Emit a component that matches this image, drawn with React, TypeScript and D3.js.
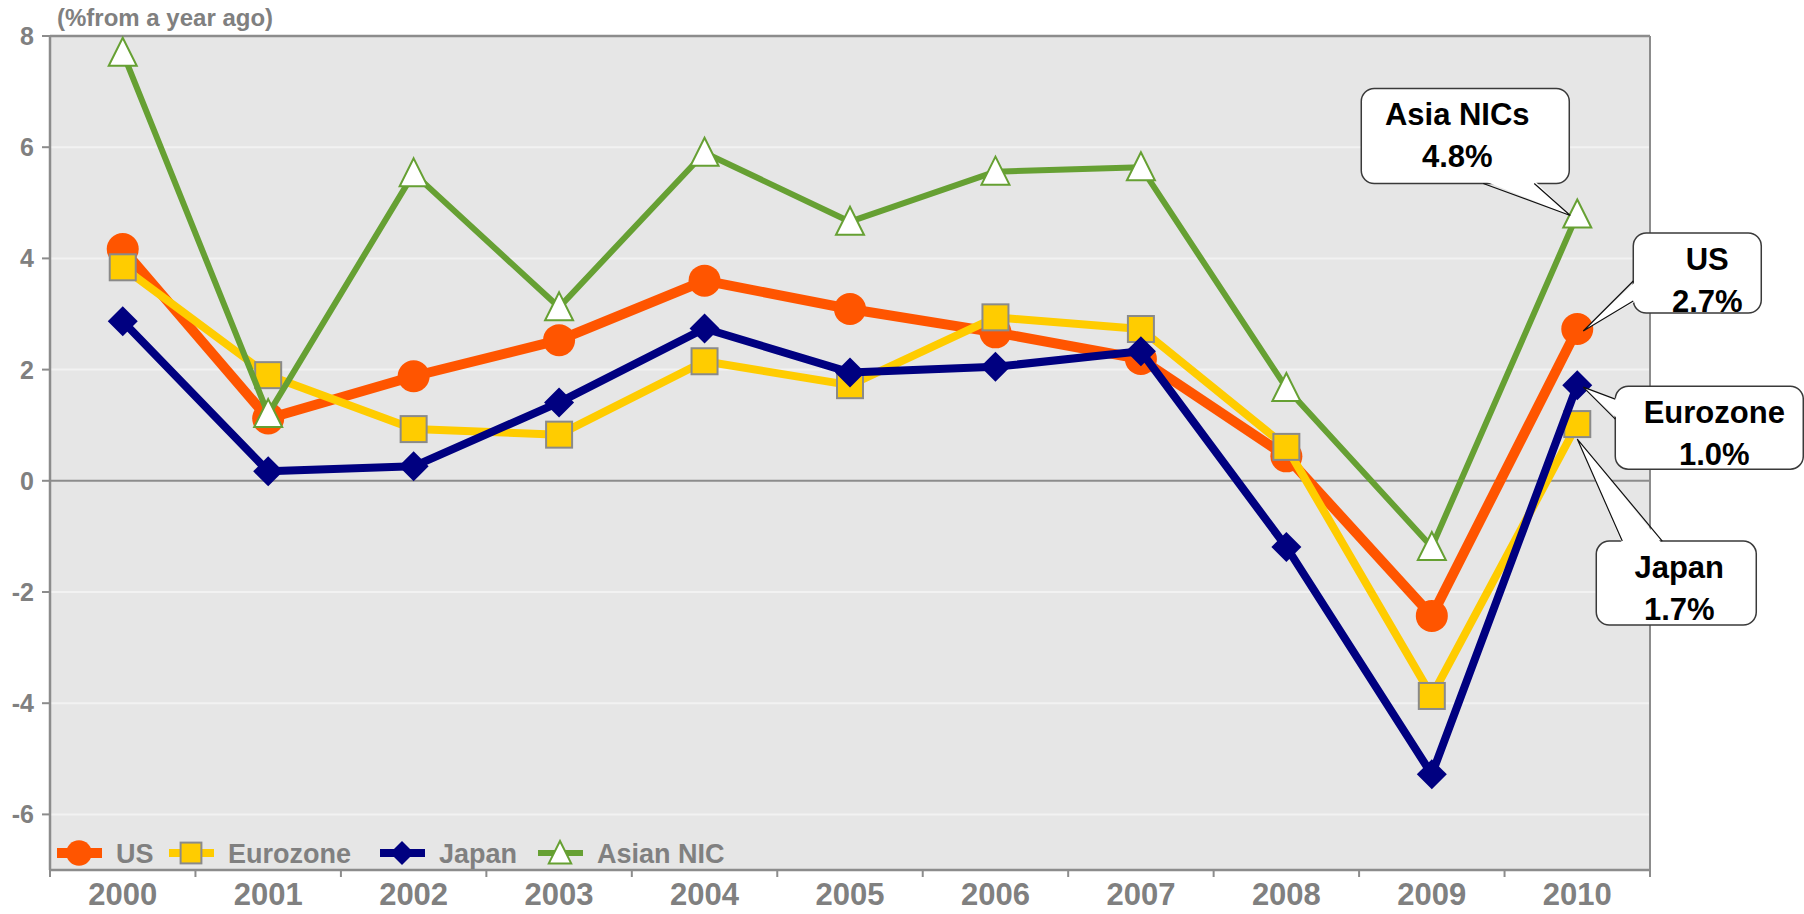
// @ts-nocheck
import * as d3 from 'd3';
import React from 'react';

const years = ['2000', '2001', '2002', '2003', '2004', '2005', '2006', '2007', '2008', '2009', '2010'];
const usValues = [4.17, 1.12, 1.88, 2.53, 3.6, 3.09, 2.67, 2.19, 0.44, -2.43, 2.73];
const euroValues = [3.84, 1.9, 0.93, 0.83, 2.15, 1.72, 2.94, 2.73, 0.61, -3.87, 1.02];
const japanValues = [2.87, 0.17, 0.26, 1.41, 2.74, 1.95, 2.05, 2.33, -1.19, -5.28, 1.72];
const nicValues = [7.7, 1.2, 5.53, 3.12, 5.9, 4.66, 5.56, 5.64, 1.67, -1.19, 4.79];
const yTicks = [-6, -4, -2, 0, 2, 4, 6, 8];

const series = [
  { name: 'US', values: usValues, color: '#ff5500', width: 10, marker: 'circle' },
  { name: 'Eurozone', values: euroValues, color: '#ffcc00', width: 8, marker: 'square' },
  { name: 'Japan', values: japanValues, color: '#000080', width: 8, marker: 'diamond' },
  { name: 'Asian NIC', values: nicValues, color: '#66a033', width: 6, marker: 'triangle' },
];

// callout labels at 2010 (text as in the source, anchors point to a series)
const callouts = [
  { lines: ['Asia NICs', '4.8%'], anchor: 'Asian NIC', box: [-216, -126, 208, 95], tip: [-7, 1], base: [[-94, -31], [-43, -31]], tx: -120 },
  { lines: ['US', '2.7%'], anchor: 'US', box: [56, -96, 128, 80], tip: [6, 2], base: [[56, -48], [56, -28]], tx: 130 },
  { lines: ['Eurozone', '1.0%'], anchor: 'Japan', box: [38, 1, 188, 83], tip: [6, 2], base: [[38, 14], [38, 34]], tx: 137 },
  { lines: ['Japan', '1.7%'], anchor: 'Eurozone', box: [19, 117, 160, 84], tip: [0, 15], base: [[45, 117], [85, 117]], tx: 102 },
];

const width = 1804;
const height = 914;
const margin = { top: 36, right: 154, bottom: 44, left: 50 };
const gray = '#808080';
const font = "'Liberation Sans', Arial, sans-serif";

const Marker = ({ type, x, y, color, s = 1 }) => {
  if (type === 'circle') return <circle cx={x} cy={y} r={16 * s} fill={color} />;
  if (type === 'square')
    return <rect x={x - 13 * s} y={y - 13 * s} width={26 * s} height={26 * s} fill={color} stroke="#8a8a8a" strokeWidth={2} />;
  if (type === 'diamond')
    return <path d={`M${x},${y - 15 * s}L${x + 15 * s},${y}L${x},${y + 15 * s}L${x - 15 * s},${y}Z`} fill={color} />;
  return (
    <path
      d={`M${x},${y - 15 * s}L${x + 14 * s},${y + 13 * s}L${x - 14 * s},${y + 13 * s}Z`}
      fill="#fff"
      stroke={color}
      strokeWidth={2}
    />
  );
};

const App = () => {
  const x = d3.scaleBand().domain(years).range([margin.left, width - margin.right]);
  const y = d3.scaleLinear().domain([-7, 8]).range([height - margin.bottom, margin.top]);
  const cx = (d) => x(d) + x.bandwidth() / 2;
  const line = (vals) =>
    d3
      .line()
      .x((d, i) => cx(years[i]))
      .y((d) => y(d))(vals);

  const x0 = margin.left;
  const x1 = width - margin.right;
  const y0 = margin.top;
  const y1 = height - margin.bottom;
  const legendX = [57, 169, 380, 538];
  const legendY = 853;

  return (
    <svg width={width} height={height} style={{ position: 'absolute', left: 0, top: 0 }} fontFamily={font}>
      <rect x={0} y={0} width={width} height={height} fill="#fff" />
      <rect x={x0} y={y0} width={x1 - x0} height={y1 - y0} fill="#e6e6e6" />
      {yTicks.filter((t) => t !== 0 && t !== 8).map((t) => (
        <line key={t} x1={x0} x2={x1} y1={y(t)} y2={y(t)} stroke="#f2f2f2" strokeWidth={2} />
      ))}
      <line x1={x0} x2={x1} y1={y(0)} y2={y(0)} stroke="#8c8c8c" strokeWidth={2} />
      <line x1={x0} x2={x1} y1={y0} y2={y0} stroke="#8c8c8c" strokeWidth={2.5} />
      <line x1={x1} x2={x1} y1={y0} y2={y1} stroke="#8c8c8c" strokeWidth={2} />
      <line x1={x0} x2={x0} y1={y0 - 1} y2={y1} stroke="#8c8c8c" strokeWidth={2.5} />
      <line x1={x0} x2={x1} y1={y1} y2={y1} stroke="#8c8c8c" strokeWidth={2.5} />

      {yTicks.map((t) => (
        <g key={t} transform={`translate(0,${y(t)})`}>
          <line x1={x0 - 8} x2={x0} stroke="#8c8c8c" strokeWidth={2} />
          <text x={34} dy="0.36em" textAnchor="end" fontSize={25} fontWeight="bold" fill={gray}>
            {t}
          </text>
        </g>
      ))}
      {years.map((yr, i) => (
        <g key={yr}>
          <line x1={x(yr)} x2={x(yr)} y1={y1} y2={y1 + 7} stroke="#8c8c8c" strokeWidth={2} />
          <text x={cx(yr)} y={905} textAnchor="middle" fontSize={31} fontWeight="bold" fill={gray}>
            {yr}
          </text>
        </g>
      ))}
      <line x1={x1} x2={x1} y1={y1} y2={y1 + 7} stroke="#8c8c8c" strokeWidth={2} />
      <text x={57} y={26} fontSize={24} fontWeight="bold" fill={gray}>
        (%from a year ago)
      </text>

      {series.map((s) => (
        <g key={s.name}>
          <path d={line(s.values)} fill="none" stroke={s.color} strokeWidth={s.width} strokeLinejoin="round" />
          {s.values.map((v, i) => (
            <Marker key={i} type={s.marker} x={cx(years[i])} y={y(v)} color={s.color} />
          ))}
        </g>
      ))}

      {series.map((s, k) => (
        <g key={s.name} transform={`translate(${legendX[k]},${legendY})`}>
          <line x1={0} x2={45} stroke={s.color} strokeWidth={s.width} />
          <Marker type={s.marker} x={22} y={0} color={s.color} s={0.8} />
          <text x={59} y={10} fontSize={27} fontWeight="bold" fill={gray}>
            {s.name}
          </text>
        </g>
      ))}

      {callouts.map((c) => {
        const s = series.find((d) => d.name === c.anchor);
        const ax = cx('2010');
        const ay = y(s.values[s.values.length - 1]);
        const [bx, by, bw, bh] = c.box;
        const tip = [ax + c.tip[0], ay + c.tip[1]];
        const b1 = [ax + c.base[0][0], ay + c.base[0][1]];
        const b2 = [ax + c.base[1][0], ay + c.base[1][1]];
        const bcx = ax + bx + bw / 2;
        const bcy = ay + by + bh / 2;
        const inward = (p) => [p[0] + Math.sign(bcx - p[0]) * (Math.abs(bcx - p[0]) > bw / 2 - 3 ? 3 : 0), p[1] + Math.sign(bcy - p[1]) * (Math.abs(bcy - p[1]) > bh / 2 - 3 ? 3 : 0)];
        const i1 = inward(b1);
        const i2 = inward(b2);
        return (
          <g key={c.lines[0]}>
            <rect x={ax + bx} y={ay + by} width={bw} height={bh} rx={13} fill="#fff" stroke="#3a3a3a" strokeWidth={1.5} />
            <path d={`M${i1}L${tip}L${i2}Z`} fill="#fff" />
            <path d={`M${b1}L${tip}L${b2}`} fill="none" stroke="#111" strokeWidth={1.2} />
            {c.lines.map((t, j) => (
              <text
                key={j}
                x={ax + c.tx}
                y={ay + by + 37 + j * 42}
                textAnchor="middle"
                fontSize={31}
                fontWeight="bold"
                fill="#000"
              >
                {t}
              </text>
            ))}
          </g>
        );
      })}
    </svg>
  );
};

export default App;
